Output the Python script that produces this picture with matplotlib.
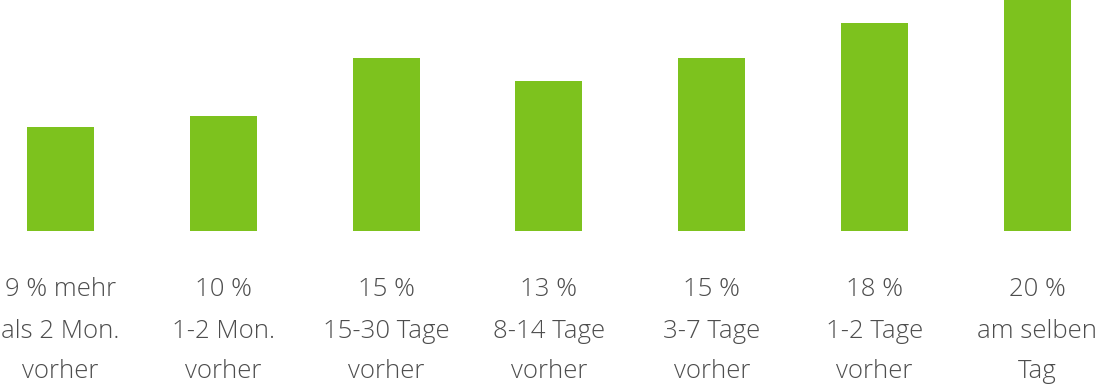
import matplotlib.pyplot as plt
import numpy as np

# Anteil je Buchungszeitpunkt (in %)
values = [9, 10, 15, 13, 15, 18, 20]
line1 = ["9 % mehr", "10 %", "15 %", "13 %", "15 %", "18 %", "20 %"]
line2 = ["als 2 Mon.", "1-2 Mon.", "15-30 Tage", "8-14 Tage", "3-7 Tage", "1-2 Tage", "am selben"]
line3 = ["vorher", "vorher", "vorher", "vorher", "vorher", "vorher", "Tag"]

green = "#7dc21e"
text_color = "#4d4d4d"

W, H = 1100, 387
fig = plt.figure(figsize=(W / 100, H / 100), dpi=100)
fig.patch.set_facecolor("white")

# axes spans the full width, bars sit on a baseline at y=231px
bottom = (H - 231) / H
ax = fig.add_axes([0, bottom, 1, 1 - bottom])

x = np.arange(len(values))
step = 162.83  # px per category
ax.bar(x, values, width=67 / step, color=green)
ax.set_xlim(-60.5 / step, (W - 60.5) / step)
ax.set_ylim(0, 20)
ax.axis("off")

# three label rows below the bars
rows = [(289, line1), (331, line2), (372, line3)]
for ypx, labels in rows:
    for xi, lab in zip(x, labels):
        xfig = (60.5 + xi * step) / W
        fig.text(xfig, 1 - ypx / H, lab, ha="center", va="center",
                 fontsize=18.5, color=text_color, family="Open Sans",
                 fontweight="light")

fig.savefig("out.png", dpi=100, facecolor="white")
